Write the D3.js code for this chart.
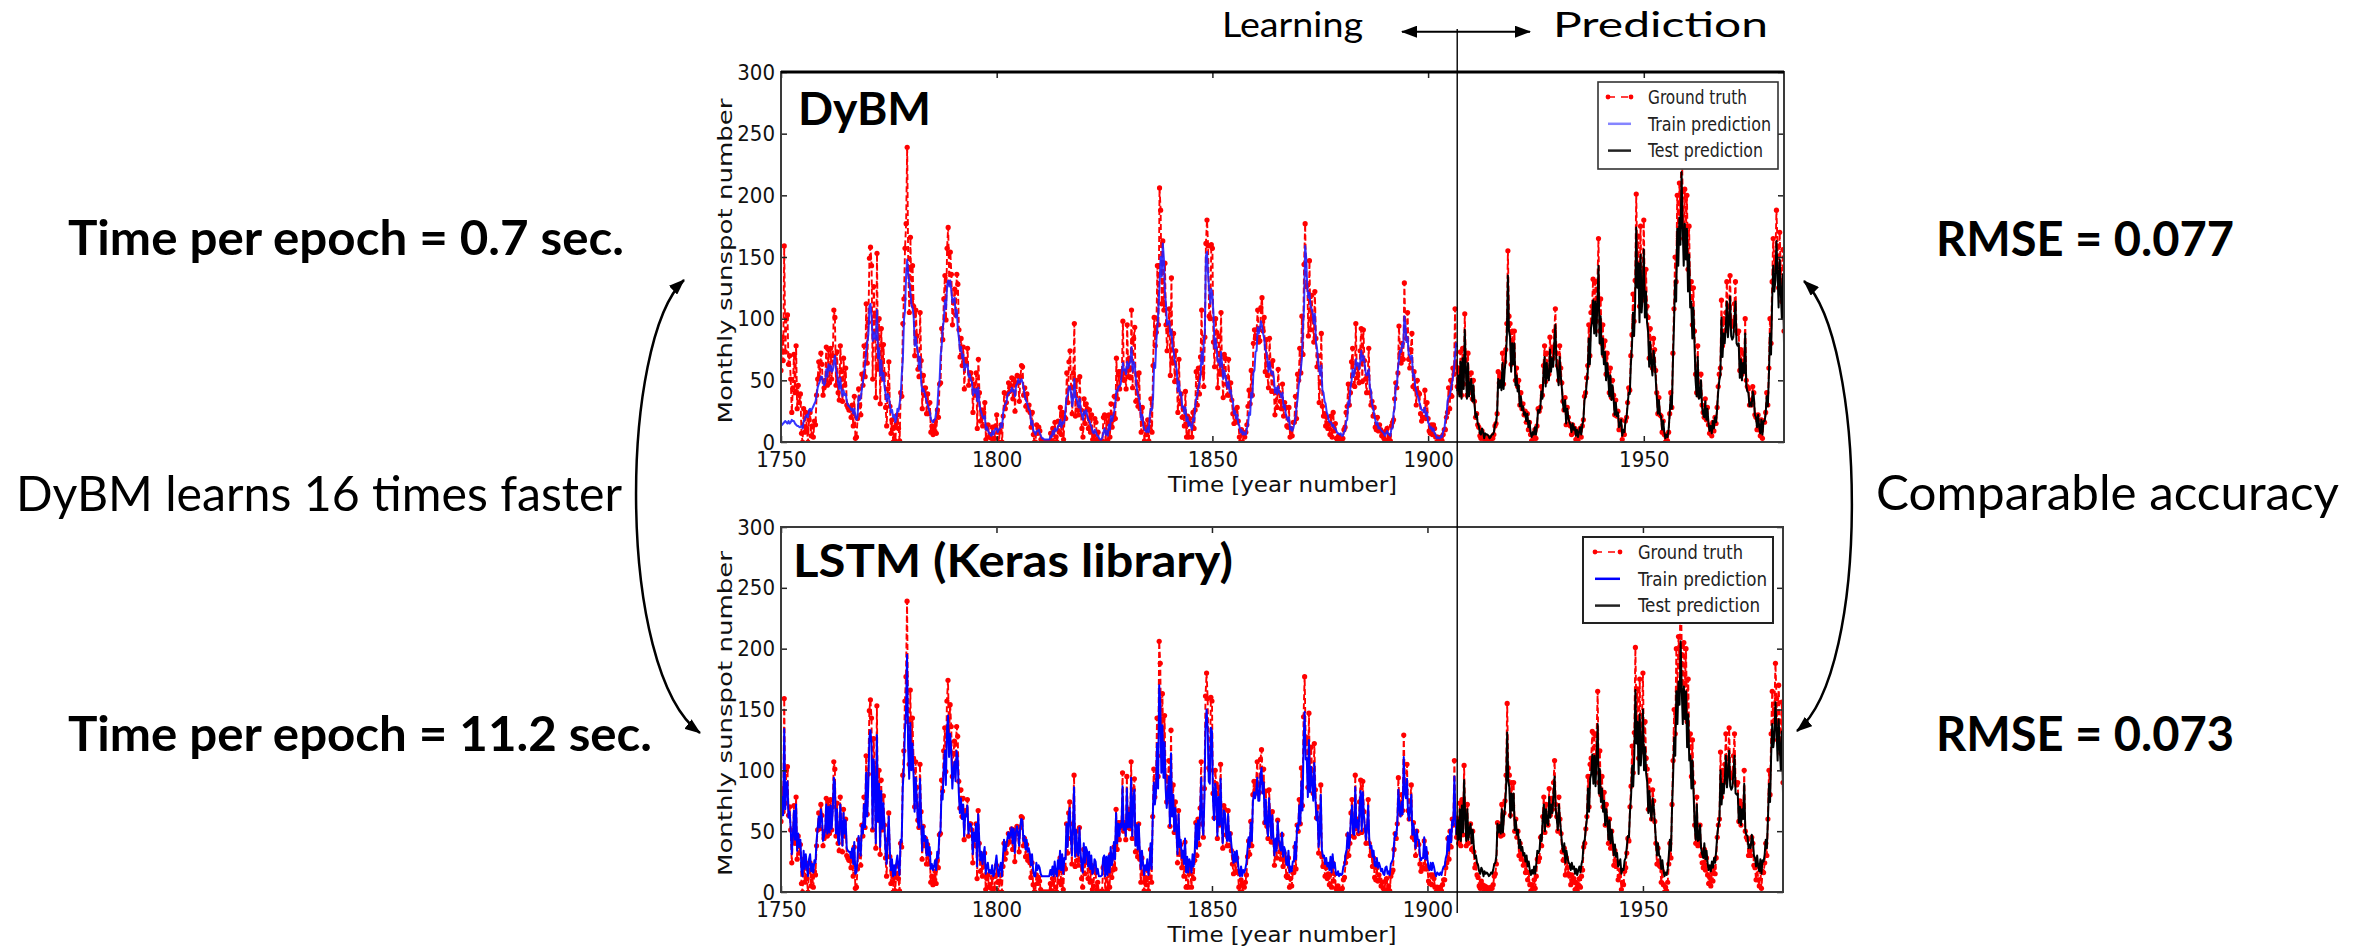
<!DOCTYPE html>
<html>
<head>
<meta charset="utf-8">
<title>Monthly sunspot number: DyBM vs LSTM</title>
<script src="https://cdn.jsdelivr.net/npm/d3@7"></script>
<style>
  html, body { margin: 0; padding: 0; background: #ffffff; }
  svg { display: block; }
</style>
</head>
<body>
<svg id="chart" width="2366" height="950"></svg>
<script>
// ---------------------------------------------------------------------------
// Series sampling: quarterly points on the chart's year axis.
const yearStart = 1750;
const sampleStep = 0.25;
const splitIndex = 627;      // first quarter of the prediction period

const yTicks = [0, 50, 100, 150, 200, 250, 300];
const xTicks = [1750, 1800, 1850, 1900, 1950];
const legendLabels = ["Ground truth", "Train prediction", "Test prediction"];

// Monthly sunspot number (ground truth), one row per decade
const groundTruth = [
  58,85,66,159, 73,100,103,63, 70,51,24,44, 71,40,78,27, 46,32,39,7, 0,27,8,24, 11,0,18,24, 5,13,4,17, 14,38,51,65, 52,72,63,38,
  44,50,77,46, 75,48,76,51, 70,107,101,46, 73,40,34,78, 57,33,68,46, 60,30,28,26, 26,20,30,13, 37,3,4,19, 43,30,22,55, 46,78,53,112,
  64,97,149,158, 143,51,126,102, 36,153,59,100, 31,92,51,79, 55,28,13,43, 65,29,7,18, 0,12,1,15, 22,11,1,40, 37,96,116,157, 177,239,140,105,
  166,114,143,110, 70,107,86,59, 53,105,66,27, 54,38,44,23, 39,23,32,8, 13,6,10,17, 7,26,20,47, 48,92,83,116, 135,99,157,174, 129,154,136,95,
  114,124,103,136, 128,91,69,84, 62,77,43,67, 64,76,46,56, 56,51,24,47, 38,56,11,67, 40,17,26,13, 24,32,2,11, 14,4,6,3, 12,0,3,13,
  22,8,0,9, 14,0,21,40, 27,32,39,48, 41,46,52,35, 51,25,48,54, 48,33,53,62, 61,38,44,29, 39,26,30,24, 12,24,6,0, 0,14,7,12,
  9,2,0,0, 0,0,0,0, 0,0,7,1, 11,0,16,4, 0,17,8,28, 6,24,2,20, 19,56,32,65, 74,44,23,56, 96,21,50,26, 22,53,26,11,
  4,35,15,31, 27,11,26,8, 22,2,5,19, 16,2,8,0, 0,0,1,20, 22,0,21,1, 22,4,31,12, 18,37,19,68, 35,57,43,57, 53,98,50,57,
  43,95,53,68, 52,107,44,84, 93,33,55,29, 56,27,8,28, 15,1,12,6, 18,1,12,35, 8,62,101,78, 89,143,95,206, 188,112,163,107, 145,95,74,91,
  108,54,133,64, 88,49,74,50, 24,67,31,39, 20,27,13,41, 4,21,4,19, 15,4,24,11, 26,57,30,60, 39,69,107,56, 45,85,161,180, 159,102,100,160,
  157,81,61,100, 89,44,86,55, 105,57,36,71, 68,47,38,67, 38,48,34,23, 15,26,16,28, 17,4,0,10, 0,7,4,8, 14,29,42,31, 58,38,80,91,
  84,91,107,81, 82,109,117,90, 101,57,83,54, 44,84,63,41, 66,41,22,41, 28,59,40,33, 27,47,21,32, 28,13,12,28, 4,11,5,16, 16,37,19,55,
  50,76,56,102, 71,144,177,126, 127,86,147,91, 119,100,81,122, 84,61,70,32, 48,88,29,21, 23,13,20,11, 15,6,21,4, 24,9,15,3, 1,5,0,2,
  1,3,10,12, 24,29,47,30, 40,65,76,46, 45,96,52,60, 48,74,92,49, 91,66,51,40, 54,76,40,30, 33,21,28,12, 10,20,9,14, 10,5,8,3,
  1,9,11,2, 5,1,13,16, 18,35,48,44, 56,94,72,64, 80,67,129,90, 84,105,67,60, 75,88,45,57, 43,30,50,40, 39,23,17,20, 20,42,19,32,
  19,9,7,14, 6,14,11,4, 0,4,2,1, 4,1,6,10, 10,20,24,44, 27,50,37,60, 55,108,61,45, 60,40,73,38, 76,47,104,66, 38,72,40,50,
  56,35,50,33, 20,23,14,12, 5,3,9,6, 0,5,3,4, 2,0,1,4, 3,6,13,15, 23,57,48,55, 46,72,47,65, 75,96,155,102, 96,63,90,71,
  90,50,60,45, 50,30,40,27, 31,22,25,16, 23,10,16,6, 1,6,3,10, 3,13,27,25, 28,45,38,62, 78,49,72,58, 55,85,63,77, 68,90,108,72,
  62,50,78,60, 48,33,26,36, 14,28,20,15, 13,6,14,8, 11,2,8,1, 6,11,4,13, 18,37,40,52, 62,95,70,105, 110,132,100,130, 98,130,165,90,
  116,80,95,70, 82,55,72,60, 40,60,36,50, 38,22,34,21, 25,10,13,18, 2,8,6,17, 20,32,44,42, 70,87,120,98, 131,201,143,167, 110,175,120,138,
  180,115,140,110, 101,68,92,70, 60,84,75,58, 40,23,36,22, 21,8,17,6, 0,4,1,8, 23,40,28,72, 108,150,130,200, 165,210,185,254, 203,165,205,170,
  200,140,175,125, 130,95,125,90, 55,40,78,38, 39,55,30,24, 20,35,18,28, 14,7,12,5, 16,9,20,15, 28,45,55,60, 115,78,100,90, 105,130,96,110,
  135,98,94,96, 112,130,90,88, 90,58,75,55, 72,62,100,50, 45,43,30,34, 30,45,40,22, 20,10,22,10, 5,18,3,17, 16,24,40,30, 60,100,80,130,
  165,140,150,188, 159,125,170,140, 114,156,90
];

// DyBM, training period (quarterly)
const dybmTrain = [
  13,14,15,16, 17,16,15,17, 15,16,18,17, 17,15,14,13, 13,12,12,13, 11,17,18,21, 22,20,26,27, 25,27,29,31, 33,38,44,47, 49,53,53,48,
  46,48,59,53, 63,58,62,57, 58,65,70,59, 55,48,43,52, 42,37,42,38, 39,33,30,29, 28,26,27,23, 27,21,18,21, 37,34,36,43, 49,56,63,74,
  81,87,110,112, 101,82,89,84, 83,107,68,76, 54,66,50,56, 45,39,33,39, 37,30,24,26, 20,22,16,19, 27,25,31,38, 55,67,99,107, 135,148,136,129,
  121,111,109,102, 78,85,77,72, 59,69,49,41, 43,40,37,33, 30,27,24,19, 17,16,18,19, 25,29,44,49, 70,78,93,99, 115,108,127,131, 126,131,122,113,
  115,117,101,107, 91,84,74,77, 68,71,58,63, 61,63,53,55, 50,49,38,43, 40,43,33,44, 30,26,23,20, 19,21,10,12, 9,7,6,5, 9,6,9,11,
  11,8,10,11, 15,12,24,28, 31,32,38,40, 40,41,44,41, 42,37,46,47, 51,48,49,51, 48,44,37,34, 32,29,26,25, 14,17,9,8, 6,9,9,10,
  7,5,3,3, 2,2,2,2, 2,2,5,4, 9,6,11,9, 10,13,14,18, 12,16,15,18, 29,37,38,45, 45,39,29,35, 51,36,36,31, 28,35,25,22,
  18,25,23,26, 21,18,17,14, 12,8,7,10, 8,5,5,3, 2,2,4,8, 11,6,9,5, 14,10,21,17, 21,25,32,42, 41,45,45,47, 55,64,58,59,
  55,65,60,63, 66,77,57,65, 63,51,43,38, 35,29,18,22, 13,10,9,8, 12,8,22,27, 26,36,64,60, 82,93,107,129, 150,134,161,149, 121,111,95,98,
  98,87,91,77, 74,66,63,58, 41,49,38,40, 28,29,23,28, 17,20,13,16, 13,10,19,17, 29,35,38,44, 48,54,73,63, 81,89,151,154, 136,124,112,124,
  119,104,76,84, 74,65,67,61, 73,63,51,58, 54,49,44,49, 40,42,35,33, 23,25,19,22, 15,13,8,10, 6,8,6,6, 11,14,24,22, 40,36,56,58,
  73,74,93,88, 92,98,94,88, 84,75,73,67, 57,65,59,55, 57,52,40,44, 39,45,40,39, 36,40,28,30, 23,20,17,20, 10,12,9,11, 15,19,28,35,
  46,51,59,68, 94,109,159,149, 125,117,121,110, 108,104,96,104, 81,76,66,58, 54,62,42,40, 33,31,24,22, 17,16,16,13, 14,11,11,9, 7,7,6,7,
  5,5,8,9, 17,18,33,30, 44,49,59,53, 57,67,62,64, 59,64,74,66, 70,65,57,54, 55,59,44,42, 31,28,22,18, 14,16,11,12, 10,9,8,7,
  5,7,9,7, 6,5,11,11, 24,27,46,45, 59,67,74,73, 80,77,102,94, 81,85,71,70, 67,70,53,55, 45,42,38,36, 32,29,26,26, 24,28,21,24,
  16,14,11,12, 9,11,7,6, 3,4,3,3, 5,4,9,10, 18,20,33,37, 37,42,47,52, 59,70,80,77
];

// DyBM, prediction period (quarterly, from splitIndex)
const dybmTest = [
  41,
  54,37,65,35, 68,43,91,59, 35,64,37,46, 51,33,46,31, 20,23,15,13, 7,6,11,8, 3,7,6,6, 5,3,4,6, 6,8,14,16, 23,51,44,50,
  42,64,43,58, 67,85,135,90, 85,57,80,63, 80,46,54,41, 46,29,37,26, 29,22,24,17, 23,12,17,8, 4,8,6,12, 6,14,26,24, 27,41,35,56,
  69,45,64,52, 50,75,57,68, 61,80,95,64, 56,46,69,54, 44,31,25,34, 15,27,20,16, 14,8,15,10, 12,5,10,4, 8,12,6,14, 18,34,37,47,
  56,84,63,92, 97,115,88,114, 86,114,143,80, 102,71,84,63, 73,50,64,54, 37,54,34,46, 35,22,32,21, 24,12,14,18, 5,10,8,17, 20,30,40,39,
  63,77,105,86, 114,174,125,145, 97,152,105,120, 156,101,122,97, 89,61,81,63, 54,74,67,52, 37,23,34,22, 21,10,17,8, 3,6,4,10, 23,37,27,64,
  95,131,114,173, 143,182,160,219, 176,143,177,148, 173,122,152,109, 114,84,109,80, 50,37,69,35, 36,50,29,23, 20,33,18,27, 15,9,13,7, 17,11,20,16,
  27,41,50,54, 101,69,88,80, 92,114,85,97, 118,86,83,85, 98,114,80,78, 80,52,67,50, 64,56,88,46, 41,40,29,32, 29,41,37,22, 20,12,22,12,
  7,18,6,17, 17,23,37,29, 54,88,71,114, 143,122,131,163, 138,109,148,122, 100,136,80
];

// LSTM, training period (quarterly)
const lstmTrain = [
  57,78,63,134, 68,89,91,61, 66,52,31,46, 67,43,72,34, 48,37,43,18, 13,34,19,31, 21,13,27,31, 17,23,16,26, 24,42,52,62, 53,68,61,42,
  46,51,72,48, 70,49,71,52, 66,94,90,48, 68,43,39,72, 56,38,65,48, 59,36,34,33, 33,28,36,23, 41,15,16,27, 46,36,30,55, 48,72,53,98,
  62,87,126,133, 122,52,109,91, 40,129,58,89, 37,83,52,73, 55,34,23,46, 62,35,18,27, 13,22,14,24, 30,21,14,43, 41,86,101,132, 148,195,119,93,
  139,100,122,97, 66,94,78,58, 53,93,63,34, 54,42,46,30, 43,30,37,19, 23,18,21,26, 18,33,28,49, 49,83,76,101, 116,88,132,145, 111,130,116,85,
  100,107,91,116, 110,82,65,77, 60,72,46,64, 62,71,48,56, 56,52,31,49, 42,56,21,64, 43,26,33,23, 31,37,15,21, 24,16,18,15, 22,13,15,23,
  30,19,13,20, 24,13,29,43, 34,37,43,49, 44,48,53,40, 52,32,49,54, 49,38,53,60, 59,42,46,35, 43,33,36,31, 22,31,18,13, 13,24,18,22,
  20,15,13,13, 13,13,13,13, 13,13,18,14, 21,13,25,16, 13,26,19,34, 18,31,15,28, 27,56,37,62, 69,46,30,56, 86,29,51,33, 30,53,33,21,
  16,40,24,37, 34,21,33,19, 30,15,17,27, 25,15,19,13, 13,13,14,28, 30,13,29,14, 30,16,37,22, 27,41,27,65, 40,56,46,56, 53,87,51,56,
  46,85,53,65, 53,94,46,77, 84,38,55,35, 56,34,19,34, 24,14,22,18, 27,14,22,40, 19,60,90,72, 81,122,85,170, 156,98,137,94, 123,85,69,82,
  95,54,114,62, 80,50,69,51, 31,64,37,43, 28,34,23,44, 16,29,16,27, 24,16,31,21, 33,56,36,59, 43,65,94,56, 47,78,135,150, 134,91,89,135,
  132,75,59,89, 81,46,78,55, 93,56,40,67, 65,49,42,64, 42,49,39,30, 24,33,25,34, 26,16,13,21, 13,18,16,19, 24,35,45,37, 57,42,74,82,
  77,82,94,75, 75,96,102,81, 90,56,76,54, 46,77,61,44, 63,44,30,44, 34,58,43,38, 34,49,29,37, 34,23,22,34, 16,21,17,25, 25,41,27,55,
  51,71,56,91, 67,122,148,109, 110,78,125,82, 103,89,75,106, 77,59,66,37, 49,80,35,29, 30,23,28,21, 24,18,29,16, 31,20,24,15, 14,17,13,15,
  14,15,21,22, 31,35,49,36, 43,62,71,48, 47,86,53,59, 49,69,83,50, 82,63,52,43, 54,71,43,36, 38,29,34,22, 21,28,20,24, 21,17,19,15,
  14,20,21,15, 17,14,23,25, 27,40,49,46, 56,84,68,62, 74,64,111,81, 77,93,64,59, 70,80,47,56, 46,36,51,43, 43,30,26,28, 28,45,27,37,
  27,20,18,24, 18,24,21,16, 13,16,15,14, 16,14,18,21, 21,28,31,46, 34,51,41,59, 55,95,59,47
];

// LSTM, prediction period (quarterly, from splitIndex)
const lstmTest = [
  47,
  59,43,68,42, 71,49,92,63, 42,68,43,51, 56,40,51,38, 28,30,24,22, 17,15,20,18, 13,17,15,16, 15,13,14,16, 15,18,23,24, 30,56,49,55,
  48,68,49,62, 70,86,131,91, 86,61,81,67, 81,51,59,47, 51,36,43,34, 37,30,32,25, 30,21,25,18, 14,18,15,21, 15,23,34,32, 34,47,42,60,
  72,50,68,57, 55,78,61,72, 65,81,95,68, 60,51,72,59, 49,38,33,40, 24,34,28,24, 23,18,24,19, 21,15,19,14, 18,21,16,23, 27,41,43,53,
  60,85,66,93, 97,113,89,112, 87,112,138,81, 101,74,85,66, 75,55,68,59, 43,59,40,51, 42,30,39,29, 32,21,23,27, 15,19,18,26, 28,37,46,45,
  66,79,104,87, 113,166,122,140, 97,146,104,118, 150,100,119,97, 90,65,83,66, 59,77,70,57, 43,30,40,30, 29,19,26,18, 13,16,14,19, 30,43,34,68,
  95,127,112,165, 138,173,154,206, 167,138,169,142, 165,119,146,108, 112,85,108,81, 55,43,72,42, 43,55,36,31, 28,40,27,34, 24,18,22,17, 25,20,28,24,
  34,47,55,59, 100,72,89,81, 93,112,86,97, 116,87,84,86, 98,112,81,80, 81,57,70,55, 68,60,89,51, 47,46,36,39, 36,47,43,30, 28,21,30,21,
  17,27,15,26, 25,31,43,36, 59,89,74,112, 138,119,127,156, 134,108,142,119, 100,132,81
];

// ---------------------------------------------------------------------------
const svg = d3.select("#chart");
const FONT_PLOT = "'DejaVu Sans Condensed', 'DejaVu Sans', sans-serif";
const FONT_PLOT_WIDE = "'DejaVu Sans', sans-serif";
const FONT_NOTE = "Lato, 'Open Sans', sans-serif";
const xDomain = [yearStart, yearStart + (groundTruth.length - 1) * sampleStep];
const splitYear = yearStart + splitIndex * sampleStep;

svg.append("rect").attr("width", 2366).attr("height", 950).attr("fill", "#ffffff");

const defs = svg.append("defs");
defs.append("marker")
  .attr("id", "arrowHead")
  .attr("viewBox", "0 0 16 12")
  .attr("refX", 15).attr("refY", 6)
  .attr("markerWidth", 16).attr("markerHeight", 12)
  .attr("markerUnits", "userSpaceOnUse")
  .attr("orient", "auto-start-reverse")
  .append("path").attr("d", "M0,0 L16,6 L0,12 Z").attr("fill", "#000");

// Two stacked panels sharing the same axes
const panels = [
  { title: "DyBM", train: dybmTrain, test: dybmTest,
    left: 781, top: 72, width: 1003, height: 370,
    trainColor: "#2020ff", trainOpacity: 0.9, legendTrainColor: "#8585ff",
    titlePos: { x: 798, y: 125, size: 46, w: 133 },
    legend: { x: 1598, y: 82, w: 180, h: 87, x0: 10, x1: 33, tx: 50, widths: [99, 123, 115] } },
  { title: "LSTM (Keras library)", train: lstmTrain, test: lstmTest,
    left: 781, top: 527, width: 1002, height: 365,
    trainColor: "#0000ff", trainOpacity: 1, legendTrainColor: "#0000ff",
    titlePos: { x: 793, y: 577, size: 45, w: 440 },
    legend: { x: 1583, y: 537, w: 190, h: 86, x0: 12, x1: 37, tx: 55, widths: [105, 129, 122] } }
];

let splitX = null;

panels.forEach((p, pi) => {
  const x = d3.scaleLinear().domain(xDomain).range([p.left, p.left + p.width]);
  const y = d3.scaleLinear().domain([0, 300]).range([p.top + p.height, p.top]);
  if (splitX === null) splitX = x(splitYear);

  const g = svg.append("g");
  const clipId = "plotClip" + pi;
  defs.append("clipPath").attr("id", clipId)
    .append("rect").attr("x", p.left).attr("y", p.top)
    .attr("width", p.width).attr("height", p.height);

  const plot = g.append("g").attr("clip-path", `url(#${clipId})`);
  const line = d3.line().x(d => x(d[0])).y(d => y(d[1]));

  const truthPts = groundTruth.map((v, i) => [yearStart + i * sampleStep, v]);
  const trainPts = p.train.map((v, i) => [yearStart + i * sampleStep, v]);
  const testPts = p.test.map((v, i) => [yearStart + (splitIndex + i) * sampleStep, v]);

  plot.append("path").attr("d", line(truthPts))
    .attr("fill", "none").attr("stroke", "#ff0000")
    .attr("stroke-width", 1.9).attr("stroke-dasharray", "6,3");
  plot.append("g").selectAll("circle").data(truthPts).join("circle")
    .attr("cx", d => x(d[0])).attr("cy", d => y(d[1]))
    .attr("r", 2.6).attr("fill", "#ff0000");

  plot.append("path").attr("d", line(trainPts))
    .attr("fill", "none").attr("stroke", p.trainColor)
    .attr("stroke-opacity", p.trainOpacity).attr("stroke-width", 2)
    .attr("stroke-linejoin", "round");
  plot.append("path").attr("d", line(testPts))
    .attr("fill", "none").attr("stroke", "#000000")
    .attr("stroke-width", 2).attr("stroke-linejoin", "round");

  // ticks point inwards on all four sides
  const styleAxis = s => {
    s.select(".domain").remove();
    s.selectAll(".tick line").attr("stroke", "#222").attr("stroke-width", 1.5);
    s.selectAll(".tick text").attr("fill", "#111")
      .style("font-family", FONT_PLOT).style("font-size", "22px");
  };
  g.append("g").attr("transform", `translate(${p.left},0)`)
    .call(d3.axisLeft(y).tickValues(yTicks).tickSizeInner(-6).tickSizeOuter(0).tickPadding(6))
    .call(styleAxis);
  g.append("g").attr("transform", `translate(${p.left + p.width},0)`)
    .call(d3.axisRight(y).tickValues(yTicks).tickSizeInner(-6).tickSizeOuter(0).tickFormat(() => ""))
    .call(styleAxis);
  g.append("g").attr("transform", `translate(0,${p.top + p.height})`)
    .call(d3.axisBottom(x).tickValues(xTicks).tickSizeInner(-6).tickSizeOuter(0).tickPadding(9).tickFormat(d3.format("d")))
    .call(styleAxis);
  g.append("g").attr("transform", `translate(0,${p.top})`)
    .call(d3.axisTop(x).tickValues(xTicks).tickSizeInner(-6).tickSizeOuter(0).tickFormat(() => ""))
    .call(styleAxis);

  // frame
  g.append("rect").attr("x", p.left).attr("y", p.top)
    .attr("width", p.width).attr("height", p.height)
    .attr("fill", "none").attr("stroke", "#3a3a3a").attr("stroke-width", 2);
  if (pi === 0) {
    g.append("line").attr("x1", p.left).attr("x2", p.left + p.width)
      .attr("y1", p.top).attr("y2", p.top)
      .attr("stroke", "#000").attr("stroke-width", 3);
  }

  // axis titles
  g.append("text")
    .attr("transform", `translate(732,${p.top + p.height / 2 + 4}) rotate(-90)`)
    .attr("text-anchor", "middle")
    .attr("textLength", 325).attr("lengthAdjust", "spacingAndGlyphs")
    .style("font-family", FONT_PLOT_WIDE).style("font-size", "20px").attr("fill", "#111")
    .text("Monthly sunspot number");
  g.append("text")
    .attr("x", p.left + p.width / 2).attr("y", p.top + p.height + 50)
    .attr("text-anchor", "middle")
    .attr("textLength", 229).attr("lengthAdjust", "spacingAndGlyphs")
    .style("font-family", FONT_PLOT).style("font-size", "22px").attr("fill", "#111")
    .text("Time [year number]");

  // panel title
  g.append("text")
    .attr("x", p.titlePos.x).attr("y", p.titlePos.y)
    .attr("textLength", p.titlePos.w).attr("lengthAdjust", "spacingAndGlyphs")
    .style("font-family", FONT_NOTE).style("font-weight", 700)
    .style("font-size", p.titlePos.size + "px").attr("fill", "#000")
    .text(p.title);

  // legend
  const L = p.legend;
  const lg = g.append("g");
  lg.append("rect").attr("x", L.x).attr("y", L.y).attr("width", L.w).attr("height", L.h)
    .attr("fill", "#ffffff").attr("stroke", pi === 0 ? "#333" : "#222")
    .attr("stroke-width", pi === 0 ? 1.6 : 2);
  const rowY = k => L.y + 15 + k * 26.8;
  const sx0 = L.x + L.x0, sx1 = L.x + L.x1;
  lg.append("line").attr("x1", sx0).attr("x2", sx1).attr("y1", rowY(0)).attr("y2", rowY(0))
    .attr("stroke", "#ff0000").attr("stroke-width", 1.6).attr("stroke-dasharray", "7,6");
  [sx0, sx1].forEach(cx => lg.append("circle").attr("cx", cx).attr("cy", rowY(0)).attr("r", 2.4).attr("fill", "#ff0000"));
  lg.append("line").attr("x1", sx0).attr("x2", sx1).attr("y1", rowY(1)).attr("y2", rowY(1))
    .attr("stroke", p.legendTrainColor).attr("stroke-width", 2.5);
  lg.append("line").attr("x1", sx0).attr("x2", sx1).attr("y1", rowY(2)).attr("y2", rowY(2))
    .attr("stroke", "#222").attr("stroke-width", 2.5);
  legendLabels.forEach((lab, k) => {
    lg.append("text").attr("x", L.x + L.tx).attr("y", rowY(k)).attr("dy", "0.36em")
      .attr("textLength", L.widths[k]).attr("lengthAdjust", "spacingAndGlyphs")
      .style("font-family", FONT_PLOT).style("font-size", "19px").attr("fill", "#222")
      .text(lab);
  });
});

// boundary between the learning and the prediction period
svg.append("line")
  .attr("x1", splitX).attr("x2", splitX).attr("y1", 29).attr("y2", 913)
  .attr("stroke", "#000").attr("stroke-width", 1.4);

// ---------------------------------------------------------------------------
// Annotations around the two panels
const notes = [
  { text: "Learning", x: 1222, y: 37, size: 34, weight: 400, w: 141 },
  { text: "Prediction", x: 1553, y: 37, size: 34, weight: 400, w: 215 },
  { text: "Time per epoch = 0.7 sec.", x: 68, y: 255, size: 47, weight: 700, w: 556 },
  { text: "DyBM learns 16 times faster", x: 16, y: 511, size: 49, weight: 400, w: 606 },
  { text: "Time per epoch = 11.2 sec.", x: 68, y: 751, size: 47, weight: 700, w: 584 },
  { text: "RMSE = 0.077", x: 1936, y: 256, size: 47, weight: 700, w: 298 },
  { text: "Comparable accuracy", x: 1876, y: 510, size: 49, weight: 400, w: 463 },
  { text: "RMSE = 0.073", x: 1936, y: 751, size: 47, weight: 700, w: 298 }
];
svg.append("g").selectAll("text").data(notes).join("text")
  .attr("x", d => d.x).attr("y", d => d.y)
  .attr("textLength", d => d.w).attr("lengthAdjust", "spacingAndGlyphs")
  .style("font-family", FONT_NOTE)
  .style("font-weight", d => d.weight)
  .style("font-size", d => d.size + "px")
  .attr("fill", "#000")
  .text(d => d.text);

const arrows = [
  { d: "M1402,31.7 L1530,31.7", w: 2 },
  { d: "M684,280 C620,340 615,670 700,733", w: 2.5 },
  { d: "M1804,281 C1866,340 1872,670 1797,731", w: 2.5 }
];
svg.append("g").selectAll("path").data(arrows).join("path")
  .attr("d", d => d.d)
  .attr("fill", "none").attr("stroke", "#000").attr("stroke-width", d => d.w)
  .attr("marker-start", "url(#arrowHead)").attr("marker-end", "url(#arrowHead)");
</script>
</body>
</html>
